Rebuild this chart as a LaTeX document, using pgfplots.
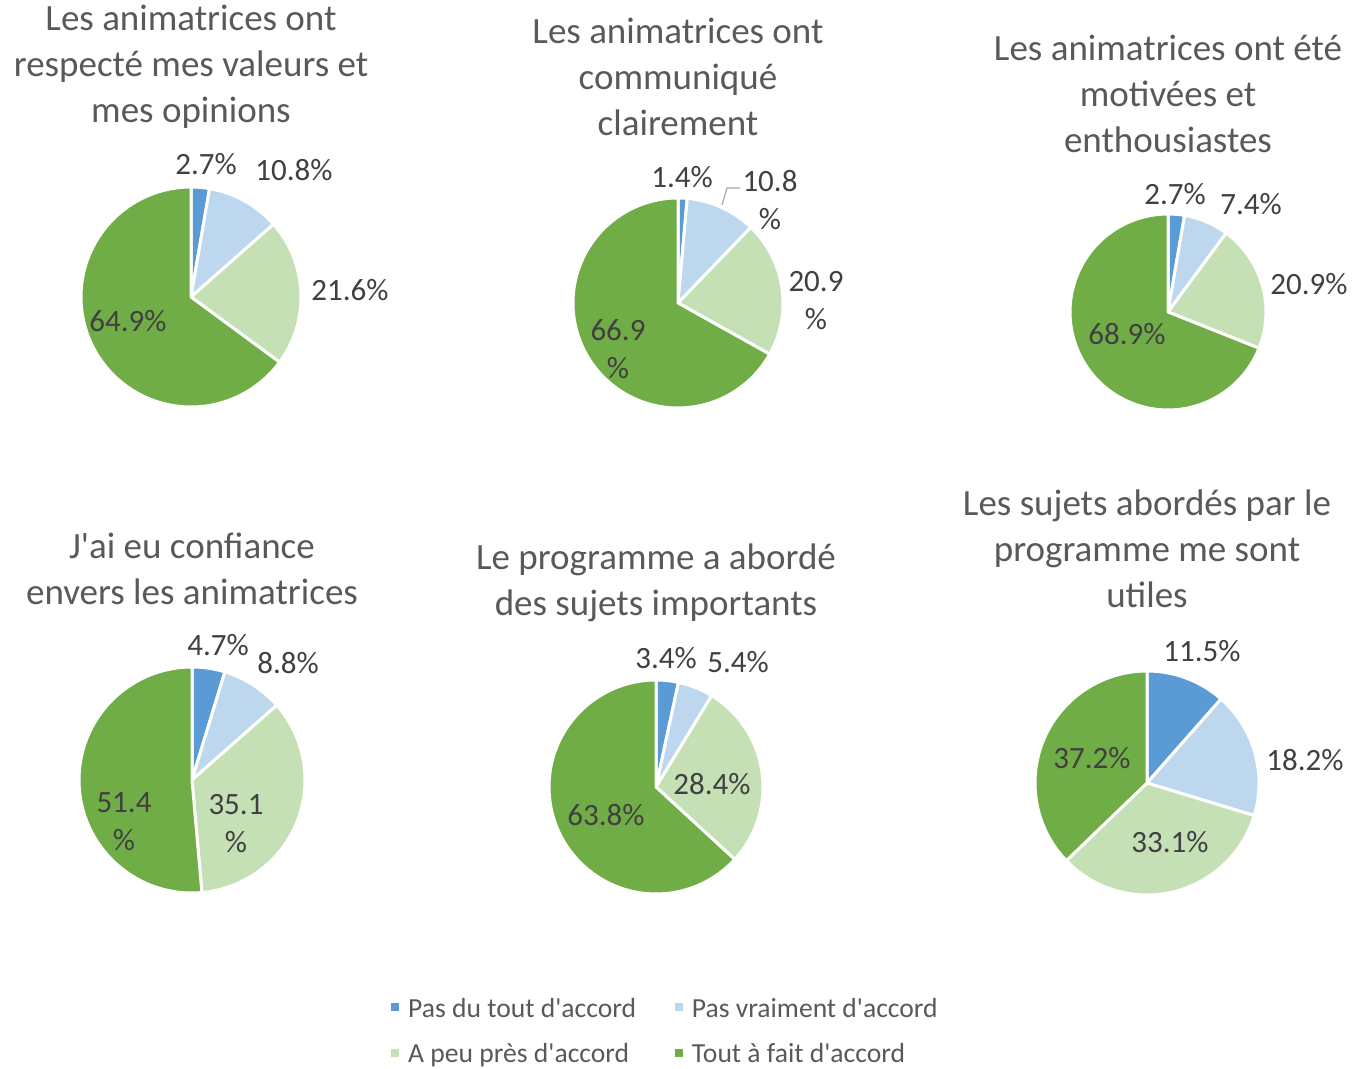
\documentclass[border=0pt]{standalone}
\usepackage{fontspec}
\setmainfont{Carlito}
\usepackage{pgfplots}
\pgfplotsset{compat=1.18}
\definecolor{c1}{HTML}{5B9BD5}
\definecolor{c2}{HTML}{BDD7EE}
\definecolor{c3}{HTML}{C5E0B4}
\definecolor{c4}{HTML}{70AD47}
\definecolor{titlegray}{HTML}{595959}
\definecolor{labelgray}{HTML}{404040}
\definecolor{leader}{HTML}{A6A6A6}

% pie: centre x, centre y (picture px, y down), radius px, value/colour list
\newcommand{\pie}[4]{%
  \gdef\tot{0}%
  \foreach \v/\col in {#4}{\pgfmathsetmacro{\tmp}{\tot+\v}\xdef\tot{\tmp}}%
  \gdef\cum{0}%
  \foreach \v/\col in {#4}{%
    \pgfmathsetmacro{\sa}{90-360*(\cum/\tot)}%
    \pgfmathsetmacro{\ea}{90-360*((\cum+\v)/\tot)}%
    \filldraw[fill=\col, draw=white, line width=1.5pt, line join=round]
      (axis cs:#1,{1069-#2}) -- ++(\sa:#3*0.5pt)
      arc[start angle=\sa, end angle=\ea, radius=#3*0.5pt] -- cycle;
    \pgfmathsetmacro{\tmp}{\cum+\v}\xdef\cum{\tmp}%
  }}
\newcommand{\lab}[3]{\node[lab] at (axis cs:#1,{1069-#2}) {#3};}
\newcommand{\ttl}[3]{\node[ttl] at (axis cs:#1,{1069-#2}) {#3};}

\tikzset{
  lab/.style={font=\fontsize{15.5}{19}\selectfont, text=labelgray, align=center, inner sep=0pt},
  ttl/.style={font=\fontsize{18.5}{23}\selectfont, text=titlegray, align=center, inner sep=0pt},
}

\begin{document}
\begin{tikzpicture}
\begin{axis}[
  x=0.5pt, y=0.5pt, xmin=0, xmax=1354, ymin=0, ymax=1069,
  hide axis, clip=false,
  legend columns=2,
  legend style={at={(0.2888,0.0683)}, anchor=north west, draw=none, fill=none,
    inner sep=0pt, row sep=9.5pt,
    font=\fontsize{13.8}{16}\selectfont, text=titlegray,
    nodes={inner sep=1pt},
    /tikz/every odd column/.append style={column sep=3.5pt},
    /tikz/every even column/.append style={column sep=18.5pt}},
  legend cell align=left,
]
\addlegendimage{legend image code/.code={\fill[c1] (0pt,-0.7pt) rectangle (3.5pt,2.8pt);}}
\addlegendentry{Pas du tout d\textquotesingle accord}
\addlegendimage{legend image code/.code={\fill[c2] (0pt,-0.7pt) rectangle (3.5pt,2.8pt);}}
\addlegendentry{Pas vraiment d\textquotesingle accord}
\addlegendimage{legend image code/.code={\fill[c3] (0pt,-0.7pt) rectangle (3.5pt,2.8pt);}}
\addlegendentry{A peu près d\textquotesingle accord}
\addlegendimage{legend image code/.code={\fill[c4] (0pt,-0.7pt) rectangle (3.5pt,2.8pt);}}
\addlegendentry{Tout à fait d\textquotesingle accord}

\pgfplotsextra{
  \path (axis cs:0,0) rectangle (axis cs:1354,1069);
  \pie{191}{297}{110}{2.7/c1,10.8/c2,21.6/c3,64.9/c4}
  \pie{678}{303}{105}{1.4/c1,10.8/c2,20.9/c3,66.9/c4}
  \pie{1168}{312}{98}{2.7/c1,7.4/c2,20.9/c3,68.9/c4}
  \pie{192}{780}{113}{4.7/c1,8.8/c2,35.1/c3,51.4/c4}
  \pie{656}{787}{107}{3.4/c1,5.4/c2,28.4/c3,63.8/c4}
  \pie{1147}{783}{112}{11.5/c1,18.2/c2,33.1/c3,37.2/c4}
  % titles
  \ttl{191}{66.5}{Les animatrices ont\\respecté mes valeurs et\\mes opinions}
  \ttl{678}{76.5}{Les animatrices ont\\communiqué\\clairement}
  \ttl{1168}{94}{Les animatrices ont été\\motivées et\\enthousiastes}
  \ttl{192}{568.5}{J\textquotesingle ai eu confiance\\envers les animatrices}
  \ttl{656}{583}{Le programme a abordé\\des sujets importants}
  \ttl{1147}{548.5}{Les sujets abordés par le\\programme me sont\\utiles}
  % data labels
  \lab{206}{164}{2.7\%}\lab{294}{170}{10.8\%}\lab{350}{290}{21.6\%}\lab{128}{321}{64.9\%}
  \lab{682}{177}{1.4\%}\lab{770}{200}{10.8\\\%}\lab{816}{301}{20.9\\\%}\lab{618}{349}{66.9\\\%}
  \draw[leader, line width=0.6pt] (axis cs:722,{1069-205}) -- (axis cs:727,{1069-188}) -- (axis cs:740,{1069-188});
  \lab{1175}{194}{2.7\%}\lab{1251}{204}{7.4\%}\lab{1309}{284}{20.9\%}\lab{1127}{334}{68.9\%}
  \lab{218}{645}{4.7\%}\lab{288}{663}{8.8\%}\lab{124}{822}{51.4\\\%}\lab{236}{824}{35.1\\\%}
  \lab{666}{658}{3.4\%}\lab{738}{662}{5.4\%}\lab{712}{784}{28.4\%}\lab{606}{815}{63.8\%}
  \lab{1202}{651}{11.5\%}\lab{1305}{760}{18.2\%}\lab{1170}{842}{33.1\%}\lab{1092}{758}{37.2\%}
}
\end{axis}
\end{tikzpicture}
\end{document}
